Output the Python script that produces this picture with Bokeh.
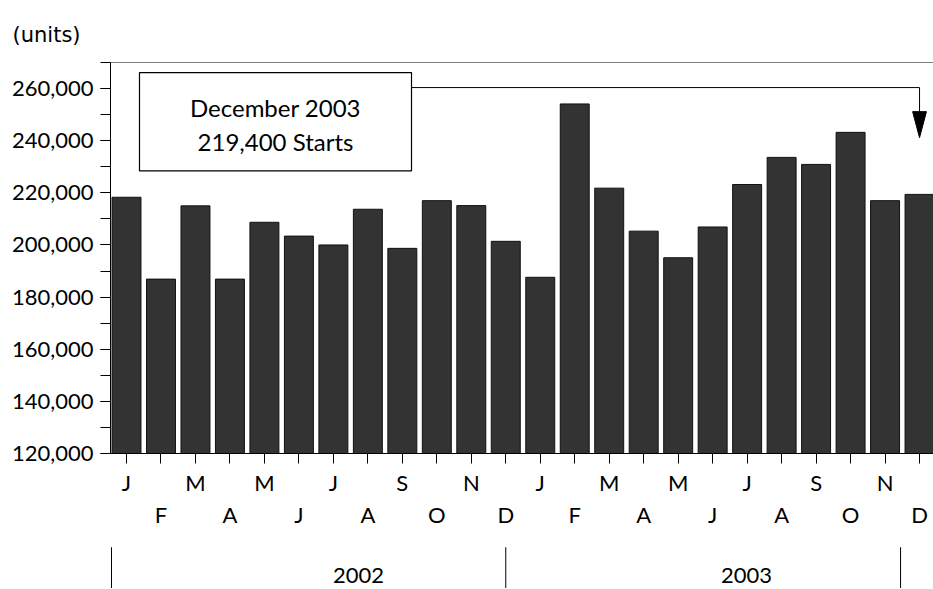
from bokeh.plotting import figure
from bokeh.models import (Range1d, FixedTicker, LinearAxis, NumeralTickFormatter,
                          Span, Label, BoxAnnotation, ColumnDataSource)
from bokeh.layouts import column
from bokeh.core.properties import value
from bokeh.embed import file_html
from bokeh.resources import INLINE

# ---------------- data ----------------
month_letters = ["J", "F", "M", "A", "M", "J", "J", "A", "S", "O", "N", "D"]
years = ["2002", "2003"]
starts_2002 = [218300, 186900, 215000, 186900, 208700, 203400,
               200000, 213700, 198700, 217000, 215100, 201400]
starts_2003 = [187600, 254100, 221800, 205300, 195100, 206900,
               223200, 233600, 230900, 243200, 217000, 219400]
y_major_ticks = [120000, 140000, 160000, 180000, 200000, 220000, 240000, 260000]
y_minor_ticks = [130000, 150000, 170000, 190000, 210000, 230000, 250000, 270000]
callout_lines = ["December 2003", "219,400 Starts"]

values = starts_2002 + starts_2003
labels = month_letters * len(years)
xs = list(range(len(values)))

FONT = "Lato"
FS = "22px"

x_range = Range1d(-0.464, 23.405)
y_range = Range1d(120000, 270000)

p = figure(width=933, height=540, x_range=x_range, y_range=y_range,
           output_backend="svg", toolbar_location=None,
           min_border_left=110, min_border_right=0, min_border_top=62,
           min_border_bottom=87)
p.grid.visible = False
p.outline_line_color = None
p.background_fill_color = "white"
p.border_fill_color = "white"

# units title
p.title.text = "(units)"
p.title.text_font = "DejaVu Sans"
p.title.text_font_size = "21px"
p.title.text_font_style = "normal"
p.title.text_color = "black"
p.title.align = "left"
p.title.offset = -98
p.title.standoff = 31

src = ColumnDataSource(dict(x=xs, top=values))
p.vbar(x="x", top="top", bottom=120000, width=0.84, source=src,
       fill_color="#333333", line_color="#111111", line_width=1)

# y axis
ya = p.yaxis[0]
ya.ticker = FixedTicker(ticks=y_major_ticks, minor_ticks=y_minor_ticks + y_major_ticks)
ya.formatter = NumeralTickFormatter(format="0,0")
ya.major_tick_out = 10
ya.major_tick_in = 0
ya.minor_tick_out = 10
ya.minor_tick_in = 0
ya.axis_line_color = "black"
ya.major_tick_line_color = "black"
ya.minor_tick_line_color = "black"
ya.major_label_text_font = FONT
ya.major_label_text_font_size = FS
ya.major_label_text_color = "black"
ya.major_label_standoff = 7

# x axis (first row of month letters)
xa = p.xaxis[0]
xa.ticker = FixedTicker(ticks=xs)
xa.major_label_overrides = {i: (labels[i] if i % 2 == 0 else "") for i in xs}
xa.major_tick_out = 10
xa.major_tick_in = 0
xa.minor_tick_line_color = None
xa.axis_line_color = "black"
xa.major_tick_line_color = "black"
xa.major_label_text_font = FONT
xa.major_label_text_font_size = FS
xa.major_label_text_color = "black"
xa.major_label_standoff = 5

# second row of month letters
odd = [i for i in xs if i % 2 == 1]
xa2 = LinearAxis(ticker=FixedTicker(ticks=odd),
                 major_label_overrides={i: labels[i] for i in odd})
xa2.axis_line_color = None
xa2.major_tick_line_color = None
xa2.minor_tick_line_color = None
xa2.major_tick_out = 0
xa2.major_tick_in = 0
xa2.major_label_text_font = FONT
xa2.major_label_text_font_size = FS
xa2.major_label_text_color = "black"
xa2.major_label_standoff = 2
p.add_layout(xa2, "below")

# top frame line
p.add_layout(Span(location=270000, dimension="width", line_color="black", line_width=1))

# callout box
box_l, box_r, box_t, box_b = 0.377, 8.266, 266150, 228460
p.add_layout(BoxAnnotation(left=box_l, right=box_r, top=box_t, bottom=box_b,
                           fill_color="white", fill_alpha=1.0,
                           line_color="black", line_alpha=1.0, line_width=1.2,
                           level="underlay"))
cx = (box_l + box_r) / 2
p.add_layout(Label(x=cx, y=252700, text=callout_lines[0], text_font=FONT,
                   text_font_size="24px", text_align="center", text_baseline="middle",
                   text_color="black"))
p.add_layout(Label(x=cx, y=239600, text=callout_lines[1], text_font=FONT,
                   text_font_size="24px", text_align="center", text_baseline="middle",
                   text_color="black"))

# arrow to December 2003
ax = xs[-1]
line_y = 260385
p.line(x=[box_r, ax, ax], y=[line_y, line_y, 251150], line_color="black", line_width=1)
p.patch(x=[ax - 0.2, ax + 0.2, ax], y=[251150, 251150, 241150],
        fill_color="black", line_color="black", line_width=1)

# ---------------- year row ----------------
p2 = figure(width=933, height=48, x_range=x_range, y_range=Range1d(0, 1),
            output_backend="svg", toolbar_location=None,
            min_border_left=110, min_border_right=0, min_border_top=0,
            min_border_bottom=0)
p2.axis.visible = False
p2.grid.visible = False
p2.outline_line_color = None
seps = [-0.435, 11.0, 22.45]
p2.segment(x0=seps, y0=[0.86] * 3, x1=seps, y1=[0] * 3, line_color="black", line_width=1)
p2.text(x=[6.73, 17.98], y=[0.27, 0.27], text=years, text_font=value(FONT),
        text_font_size=FS, text_align="center", text_baseline="middle",
        text_color="black")

layout = column(p, p2, spacing=0)
open("out.html", "w").write(file_html(layout, INLINE))
